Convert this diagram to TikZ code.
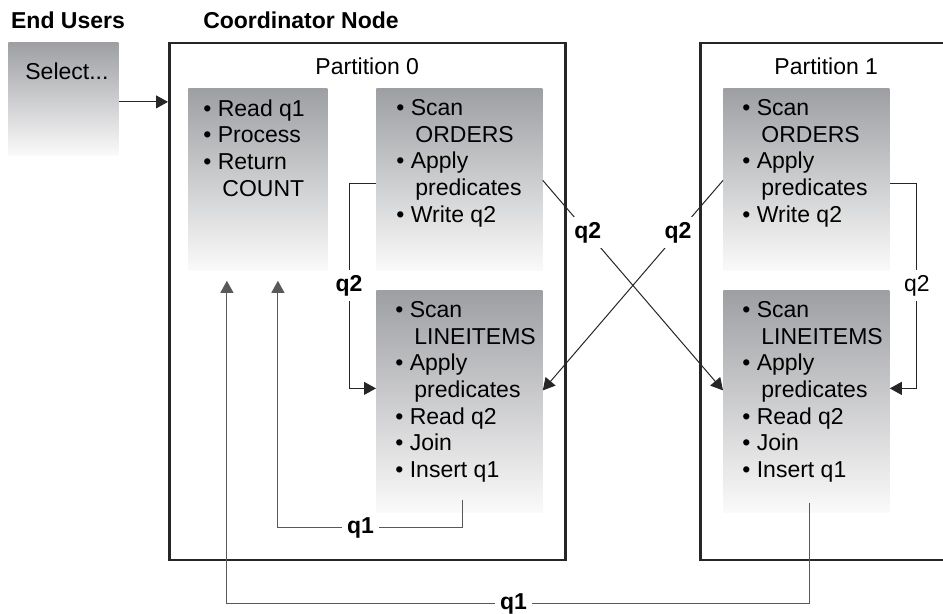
\documentclass[tikz,border=0pt]{standalone}
\usepackage{fontspec}
\setmainfont{Liberation Sans}
\usetikzlibrary{arrows.meta,calc}

\definecolor{boxtop}{RGB}{158,159,163}
\definecolor{boxbot}{RGB}{250,250,250}
\newcommand{\diafont}{\fontsize{11.5}{13.35}\selectfont}
\newcommand{\indt}{\hspace*{9.5pt}}

\tikzset{
  part/.style={draw=black!85, line width=1.25pt, anchor=north west, inner sep=0pt, minimum height=258.5pt},
  stepbox/.style={top color=boxtop, bottom color=boxbot, anchor=north west, inner sep=0pt, minimum width=83pt, minimum height=91pt},
  items/.style={anchor=north west, inner sep=0pt, align=left, font=\diafont},
  flow/.style={-{Triangle[length=6pt,width=6.5pt]}, draw=black!85, line width=0.5pt},
  back/.style={flow, draw=black!65},
  q/.style={fill=white, inner sep=2.5pt, font=\diafont\bfseries}
}

\begin{document}
\begin{tikzpicture}[x=0.5pt, y=-0.5pt, font=\diafont]
\path[use as bounding box, clip] (0,0) rectangle (943,614);

% titles
\node[font=\diafont\bfseries] (users) at (68,20) {End Users};
\node[font=\diafont\bfseries] (coord) at (301,20) {Coordinator Node};

% partitions
\node[part, minimum width=198pt] (p0) at (168,42) {};
\node[part, minimum width=126pt] (p1) at (699,42) {};
\node (p0t) at ($(p0.north)+(0,24)$) {Partition 0};
\node (p1t) at ($(p1.north)+(0,24)$) {Partition 1};

% boxes
\node[stepbox, minimum width=55pt, minimum height=56.5pt] (sel) at (8,42) {};
\node[stepbox, minimum width=69.5pt] (rq) at (188,88) {};
\node[stepbox] (ob0) at (376,88) {};
\node[stepbox, minimum height=111pt] (li0) at (376,290) {};
\node[stepbox] (ob1) at (723,88) {};
\node[stepbox, minimum height=111pt] (li1) at (723,290) {};

% box texts
\node[items] (selt) at ($(sel.north west)+(17,20)$) {Select...};
\node[items] (rqt) at ($(rq.north west)+(15,11)$) {\textbullet~Read q1\\ \textbullet~Process\\ \textbullet~Return\\ \indt COUNT};
\node[items] (ob0t) at ($(ob0.north west)+(20,11)$) {\textbullet~Scan\\ \indt ORDERS\\ \textbullet~Apply\\ \indt predicates\\ \textbullet~Write q2};
\node[items] (li0t) at ($(li0.north west)+(19,11)$) {\textbullet~Scan\\ \indt LINEITEMS\\ \textbullet~Apply\\ \indt predicates\\ \textbullet~Read q2\\ \textbullet~Join\\ \textbullet~Insert q1};
\node[items] (ob1t) at ($(ob1.north west)+(19,11)$) {\textbullet~Scan\\ \indt ORDERS\\ \textbullet~Apply\\ \indt predicates\\ \textbullet~Write q2};
\node[items] (li1t) at ($(li1.north west)+(19,11)$) {\textbullet~Scan\\ \indt LINEITEMS\\ \textbullet~Apply\\ \indt predicates\\ \textbullet~Read q2\\ \textbullet~Join\\ \textbullet~Insert q1};

% connectors
\coordinate (in1) at ($(rq.south)+(-31,10)$);
\coordinate (in2) at ($(rq.south)+(20,10)$);

\draw[flow] ($(sel.east)+(0,3)$) -- ($(sel.east -| p0.west)+(0,3)$);
\draw[flow] ($(ob0.west)+(0,4)$) -- ++(-27,0) |- node[q, pos=0.25]{q2} ($(li0.west)+(0,-13)$);
\draw[flow] ($(ob1.east)+(0,4)$) -- ++(27,0) |- node[q, pos=0.25, font=\diafont]{q2} ($(li1.east)+(0,-13)$);
\draw[flow] ($(ob0.east)+(0,1)$) -- node[q, pos=0.25]{q2} ($(li1.west)+(0,-11)$);
\draw[flow] ($(ob1.west)+(0,1)$) -- node[q, pos=0.25]{q2} ($(li0.east)+(0,-11)$);
\draw[back] ($(li0.south)+(3,-13)$) -- ++(0,28) -| node[q, pos=0.276]{q1} (in2);
\draw[back] ($(li1.south)+(3,-10)$) -- ++(0,101) -| node[q, pos=0.254]{q1} (in1);
\end{tikzpicture}
\end{document}
